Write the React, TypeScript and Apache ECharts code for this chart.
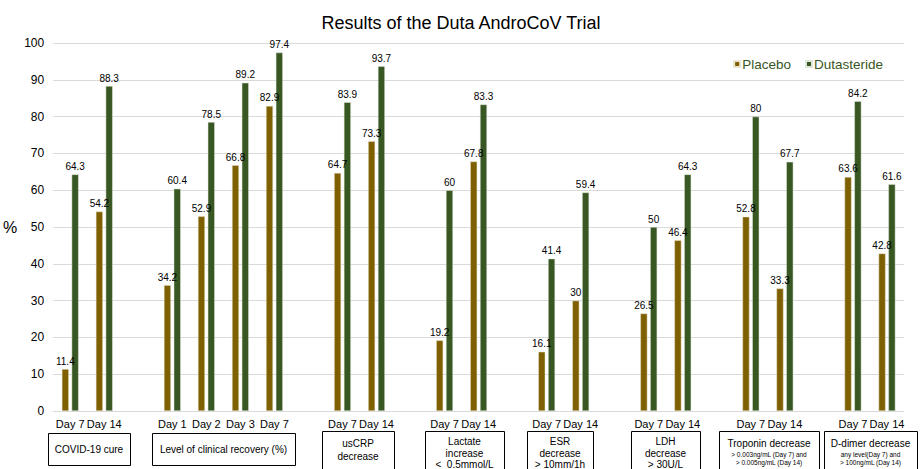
import React, { useEffect, useRef } from "react";
import * as echarts from "echarts";

const categories = [
  "Day 7", "Day 14", "",
  "Day 1", "Day 2", "Day 3", "Day 7", "",
  "Day 7", "Day 14", "",
  "Day 7", "Day 14", "",
  "Day 7", "Day 14", "",
  "Day 7", "Day 14", "",
  "Day 7", "Day 14", "",
  "Day 7", "Day 14",
];

const placebo: (number | null)[] = [
  11.4, 54.2, null,
  34.2, 52.9, 66.8, 82.9, null,
  64.7, 73.3, null,
  19.2, 67.8, null,
  16.1, 30, null,
  26.5, 46.4, null,
  52.8, 33.3, null,
  63.6, 42.8,
];

const dutasteride: (number | null)[] = [
  64.3, 88.3, null,
  60.4, 78.5, 89.2, 97.4, null,
  83.9, 93.7, null,
  60, 83.3, null,
  41.4, 59.4, null,
  50, 64.3, null,
  80, 67.7, null,
  84.2, 61.6,
];

const yTicks = { min: 0, max: 100, interval: 10 };

const FONT = "'Liberation Sans', Arial, Helvetica, sans-serif";
const PLACEBO_COLOR = "#7f6000";
const DUTA_COLOR = "#385723";

type Box = {
  x: number; y: number; w: number; h: number;
  lines: { text: string; size: number; dy: number }[];
};

const boxes: Box[] = [
  { x: 48, y: 433, w: 82, h: 32, lines: [{ text: "COVID-19 cure", size: 10, dy: 16 }] },
  { x: 152, y: 433, w: 143, h: 32, lines: [{ text: "Level of clinical recovery (%)", size: 10, dy: 16 }] },
  { x: 322, y: 431, w: 72, h: 45, lines: [{ text: "usCRP", size: 10, dy: 12 }, { text: "decrease", size: 10, dy: 25 }] },
  { x: 425, y: 431, w: 79, h: 45, lines: [{ text: "Lactate", size: 10, dy: 10 }, { text: "increase", size: 10, dy: 22 }, { text: "<  0.5mmol/L", size: 10, dy: 33 }] },
  { x: 527, y: 431, w: 66, h: 45, lines: [{ text: "ESR", size: 10, dy: 10 }, { text: "decrease", size: 10, dy: 22 }, { text: "> 10mm/1h", size: 10, dy: 33 }] },
  { x: 631, y: 431, w: 69, h: 45, lines: [{ text: "LDH", size: 10, dy: 10 }, { text: "decrease", size: 10, dy: 22 }, { text: "> 30U/L", size: 10, dy: 33 }] },
  { x: 719, y: 431, w: 100, h: 45, lines: [{ text: "Troponin decrease", size: 10, dy: 12 }, { text: "> 0.003ng/mL (Day 7) and", size: 6.5, dy: 23 }, { text: "> 0.005ng/mL (Day 14)", size: 6.5, dy: 31 }] },
  { x: 824, y: 431, w: 93, h: 45, lines: [{ text: "D-dimer decrease", size: 10, dy: 12 }, { text: "any level(Day 7) and", size: 6.5, dy: 23 }, { text: "> 100ng/mL (Day 14)", size: 6.5, dy: 31 }] },
];

export default function App() {
  const ref = useRef<HTMLDivElement>(null);

  useEffect(() => {
    if (!ref.current) return;
    const chart = echarts.init(ref.current, undefined, { renderer: "svg" });

    const graphics: any[] = [];
    boxes.forEach((b) => {
      graphics.push({
        type: "rect",
        shape: { x: b.x + 0.5, y: b.y + 0.5, width: b.w, height: b.h },
        style: { fill: "#fff", stroke: "#000", lineWidth: 1 },
        z: 10,
      });
      b.lines.forEach((l) => {
        graphics.push({
          type: "text",
          x: b.x + b.w / 2,
          y: b.y + l.dy,
          style: {
            text: l.text,
            fontSize: l.size,
            fontFamily: FONT,
            fill: "#000",
            align: "center",
            verticalAlign: "middle",
          },
          z: 11,
        });
      });
    });

    const labelStyle = {
      show: true,
      position: "top" as const,
      distance: 3,
      fontSize: 10,
      fontFamily: FONT,
      color: "#000",
    };

    chart.setOption({
      animation: false,
      backgroundColor: "#fff",
      textStyle: { fontFamily: FONT },
      title: {
        text: "Results of the Duta AndroCoV Trial",
        left: "center",
        top: 9,
        textStyle: { fontSize: 18, fontWeight: "normal", color: "#000", fontFamily: FONT },
      },
      legend: {
        right: 34,
        top: 52,
        icon: "rect",
        itemWidth: 6,
        itemHeight: 6,
        itemGap: 14,
        textStyle: { fontSize: 13.5, color: DUTA_COLOR, fontFamily: FONT, padding: [0, 0, 0, -3] },
        data: ["Placebo", "Dutasteride"],
      },
      grid: { left: 53, right: 18, top: 43, bottom: 58, containLabel: false },
      xAxis: {
        type: "category",
        data: categories,
        axisTick: { show: false },
        axisLine: { lineStyle: { color: "#d9d9d9", width: 1 } },
        axisLabel: { fontSize: 11, color: "#000", margin: 7, interval: 0, fontFamily: FONT },
      },
      yAxis: {
        type: "value",
        min: yTicks.min,
        max: yTicks.max,
        interval: yTicks.interval,
        name: "%",
        nameLocation: "middle",
        nameRotate: 0,
        nameGap: 36,
        nameTextStyle: { fontSize: 16, color: "#000", fontFamily: FONT },
        axisLine: { show: false },
        axisTick: { show: false },
        axisLabel: { fontSize: 12, color: "#000", margin: 9, fontFamily: FONT },
        splitLine: { lineStyle: { color: "#d9d9d9", width: 1 } },
      },
      series: [
        {
          name: "Placebo",
          type: "bar",
          data: placebo,
          barWidth: 7,
          barGap: "40%",
          itemStyle: { color: PLACEBO_COLOR, borderColor: "#e8e4d0", borderWidth: 0.5 },
          label: labelStyle,
        },
        {
          name: "Dutasteride",
          type: "bar",
          data: dutasteride,
          barWidth: 7,
          barGap: "40%",
          itemStyle: { color: DUTA_COLOR, borderColor: "#dfe6d8", borderWidth: 0.5 },
          label: labelStyle,
        },
      ],
      graphic: graphics,
    });

    return () => chart.dispose();
  }, []);

  return (
    <div
      ref={ref}
      style={{ position: "fixed", left: 0, top: 0, width: 922, height: 469 }}
    />
  );
}
